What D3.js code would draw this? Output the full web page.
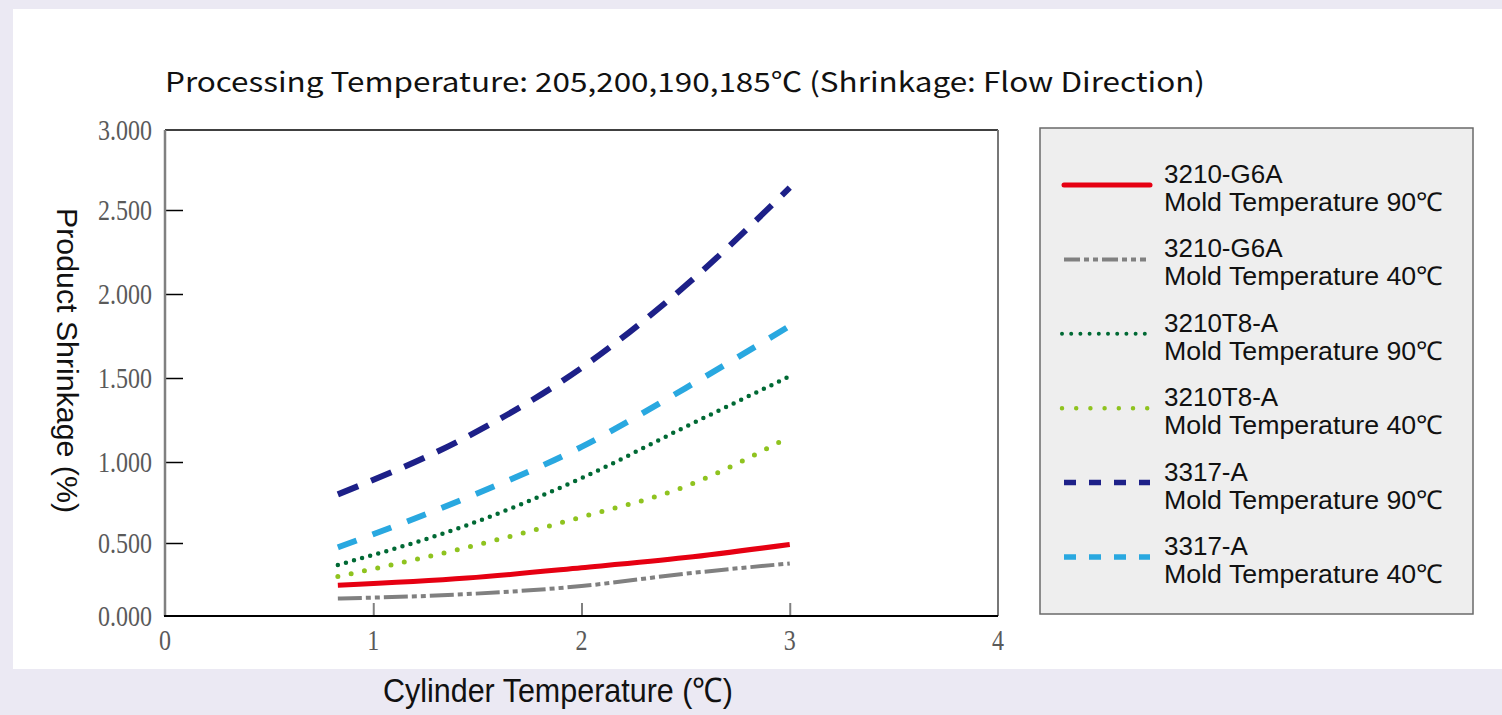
<!DOCTYPE html>
<html>
<head>
<meta charset="utf-8">
<script src="https://cdn.jsdelivr.net/npm/d3@7"></script>
<style>
  html, body { margin: 0; padding: 0; background: #ebe9f3; }
  svg { display: block; }
</style>
</head>
<body>
<div id="chart"></div>
<script>
// data
var cylTemps = [0.83, 1.45, 2.0, 2.5, 3.0];

var g6a90 = [0.21, 0.26, 0.33, 0.40, 0.49];
var g6a40 = [0.12, 0.15, 0.205, 0.29, 0.36];
var t8a90 = [0.35, 0.61, 0.90, 1.21, 1.51];
var t8a40 = [0.27, 0.47, 0.66, 0.85, 1.15];
var a90   = [0.80, 1.15, 1.56, 2.05, 2.64];
var a40   = [0.47, 0.78, 1.09, 1.44, 1.81];

var seriesNames = ["3210-G6A", "3210-G6A", "3210T8-A", "3210T8-A", "3317-A", "3317-A"];
var seriesMolds = ["Mold Temperature 90℃", "Mold Temperature 40℃", "Mold Temperature 90℃",
                   "Mold Temperature 40℃", "Mold Temperature 90℃", "Mold Temperature 40℃"];
var seriesValues = [g6a90, g6a40, t8a90, t8a40, a90, a40];

var xTicks = [0, 1, 2, 3, 4];
var yTicks = [0, 0.5, 1, 1.5, 2, 2.5, 3];

// looks
var styles = [
  {color: "#e60012", width: 5,   dash: null,            legDash: null,          cap: "butt"},
  {color: "#808080", width: 4,   dash: "24,4,5,4,5,4",  legDash: "16,4,5,4,5,4", cap: "butt"},
  {color: "#006934", width: 4.5, dash: "0,8.4",         legDash: "0,9.2",       cap: "round"},
  {color: "#8fc31f", width: 5,   dash: "0,13.6",        legDash: "0,14.2",      cap: "round"},
  {color: "#1d2088", width: 6,   dash: "22,14",         legDash: "12,13",       cap: "butt"},
  {color: "#29a8e0", width: 6,   dash: "20,17",         legDash: "12,13",       cap: "butt"}
];

var W = 1502, H = 715;
var svg = d3.select("#chart").append("svg").attr("width", W).attr("height", H);

// white panel
svg.append("rect").attr("x", 13).attr("y", 9).attr("width", W - 13).attr("height", 660)
   .attr("fill", "#ffffff");

var x = d3.scaleLinear().domain([0, 4]).range([165, 998]);
// the printed axis is not quite even, so follow its tick positions
var y = d3.scaleLinear().domain(yTicks).range([616, 543, 462, 378, 294, 210, 130]);

// title
svg.append("text")
   .attr("x", 165).attr("y", 92)
   .attr("font-family", "'Noto Sans CJK JP', 'Noto Sans', sans-serif")
   .attr("font-size", 27)
   .attr("fill", "#111")
   .attr("textLength", 1040)
   .attr("lengthAdjust", "spacingAndGlyphs")
   .text("Processing Temperature: 205,200,190,185℃ (Shrinkage: Flow Direction)");

// frame
var x0 = x(0), x1 = x(4), yTop = y(3), yBot = y(0);
svg.append("line").attr("x1", x0).attr("x2", x1).attr("y1", yTop).attr("y2", yTop)
   .attr("stroke", "#000").attr("stroke-width", 1.5);
svg.append("line").attr("x1", x1).attr("x2", x1).attr("y1", yTop).attr("y2", yBot)
   .attr("stroke", "#777").attr("stroke-width", 2);

// y axis
var yAxis = d3.axisLeft(y).tickValues(yTicks.slice(1, 6)).tickSize(-18).tickFormat(d3.format(".3f"));
var gy = svg.append("g").attr("transform", "translate(" + x0 + ",0)").call(yAxis);
gy.select(".domain").remove();
gy.selectAll(".tick line").attr("stroke", "#000").attr("stroke-width", 1.5);
gy.selectAll(".tick text").remove();

svg.append("line").attr("x1", x0).attr("x2", x0).attr("y1", yTop).attr("y2", yBot)
   .attr("stroke", "#808080").attr("stroke-width", 2.5);

svg.selectAll(".ylab")
   .data(yTicks)
   .enter()
   .append("text")
   .attr("class", "ylab")
   .attr("transform", function(d) { return "translate(152," + (y(d) + 10) + ") scale(0.8,1)"; })
   .attr("text-anchor", "end")
   .attr("font-family", "'Liberation Serif', serif")
   .attr("font-size", 30)
   .attr("fill", "#5a5a5a")
   .text(function(d) { return d3.format(".3f")(d); });

// x axis
var xAxis = d3.axisBottom(x).tickValues([1, 2, 3]).tickSize(-13).tickFormat("");
var gx = svg.append("g").attr("transform", "translate(0," + yBot + ")").call(xAxis);
gx.select(".domain").remove();
gx.selectAll(".tick line").attr("stroke", "#808080").attr("stroke-width", 2);

svg.append("line").attr("x1", x0 - 1).attr("x2", x1).attr("y1", yBot).attr("y2", yBot)
   .attr("stroke", "#000").attr("stroke-width", 2);

svg.selectAll(".xlab")
   .data(xTicks)
   .enter()
   .append("text")
   .attr("class", "xlab")
   .attr("transform", function(d) { return "translate(" + x(d) + ",650) scale(0.8,1)"; })
   .attr("text-anchor", "middle")
   .attr("font-family", "'Liberation Serif', serif")
   .attr("font-size", 30)
   .attr("fill", "#5a5a5a")
   .text(function(d) { return d; });

// axis titles
svg.append("text")
   .attr("transform", "translate(57,208) rotate(90)")
   .attr("font-family", "'Liberation Sans Narrow', 'Liberation Sans', sans-serif")
   .attr("font-size", 30)
   .attr("fill", "#111")
   .attr("textLength", 305)
   .attr("lengthAdjust", "spacingAndGlyphs")
   .text("Product Shrinkage (%)");

svg.append("text")
   .attr("x", 383).attr("y", 702)
   .attr("font-family", "'Liberation Sans Narrow', 'Liberation Sans', sans-serif")
   .attr("font-size", 34)
   .attr("fill", "#111")
   .attr("textLength", 350)
   .attr("lengthAdjust", "spacingAndGlyphs")
   .text("Cylinder Temperature (℃)");

// lines
var line = d3.line()
   .x(function(d) { return x(d[0]); })
   .y(function(d) { return y(d[1]); })
   .curve(d3.curveMonotoneX);

// draw bottom series last so the thick red line sits on top
var drawOrder = [4, 5, 2, 3, 1, 0];
drawOrder.forEach(function(i) {
  var pts = cylTemps.map(function(t, j) { return [t, seriesValues[i][j]]; });
  svg.append("path")
     .datum(pts)
     .attr("d", line)
     .attr("fill", "none")
     .attr("stroke", styles[i].color)
     .attr("stroke-width", styles[i].width)
     .attr("stroke-dasharray", styles[i].dash)
     .attr("stroke-linecap", styles[i].cap);
});

// legend
var leg = svg.append("g");
leg.append("rect")
   .attr("x", 1040).attr("y", 128).attr("width", 433).attr("height", 486)
   .attr("fill", "#eeeeee").attr("stroke", "#6a6a6a").attr("stroke-width", 1.5);

var legY = d3.scaleLinear().domain([0, 5]).range([185, 557]);

var items = leg.selectAll(".item")
   .data(seriesNames)
   .enter()
   .append("g")
   .attr("class", "item")
   .attr("transform", function(d, i) { return "translate(0," + legY(i) + ")"; });

items.append("line")
   .attr("x1", function(d, i) { return i == 2 || i == 3 ? 1062 : 1064; })
   .attr("x2", function(d, i) { return i == 1 ? 1146 : 1150; })
   .attr("y1", 0).attr("y2", 0)
   .attr("stroke", function(d, i) { return styles[i].color; })
   .attr("stroke-width", function(d, i) { return i == 0 ? 5 : (i < 2 ? 4 : styles[i].width - 0.5); })
   .attr("stroke-dasharray", function(d, i) { return styles[i].legDash; })
   .attr("stroke-linecap", function(d, i) { return i == 0 ? "round" : styles[i].cap; });

items.append("text")
   .attr("x", 1164).attr("y", -2)
   .attr("font-family", "'Liberation Sans', Arial, sans-serif")
   .attr("font-size", 26)
   .attr("fill", "#111")
   .text(function(d) { return d; });

items.append("text")
   .attr("x", 1164).attr("y", 26)
   .attr("font-family", "'Liberation Sans', Arial, sans-serif")
   .attr("font-size", 26)
   .attr("fill", "#111")
   .attr("textLength", 279)
   .attr("lengthAdjust", "spacingAndGlyphs")
   .text(function(d, i) { return seriesMolds[i]; });
</script>
</body>
</html>
